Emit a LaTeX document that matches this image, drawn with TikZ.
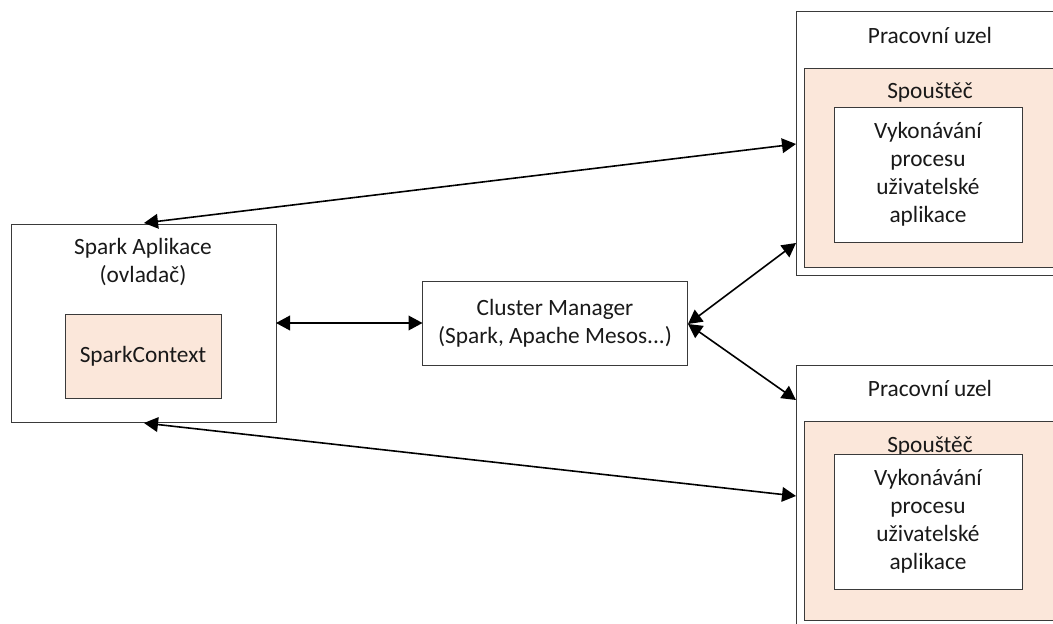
\documentclass[tikz,border=0pt]{standalone}
\usepackage{fontspec}
\setmainfont{Carlito}
\usetikzlibrary{arrows.meta}
\definecolor{peach}{HTML}{FBE7DA}
\definecolor{edge}{HTML}{3A3A3A}
\tikzset{
  px/.style={x=0.75pt,y=-0.75pt},
  box/.style={draw=edge,line width=0.75pt,fill=white,inner sep=0pt,outer sep=0pt,anchor=north west},
  peachbox/.style={box,fill=peach},
  txt/.style={inner sep=0pt,align=center,font=\fontsize{17.5}{21}\selectfont,text=black!90},
  link/.style={line width=1.2pt,black,{Triangle[length=10.5pt,width=11pt]}-{Triangle[length=10.5pt,width=11pt]}}
}
\begin{document}
\begin{tikzpicture}[px]
\useasboundingbox (0,0) rectangle (1053,624);
\clip (0,0) rectangle (1053,624);
% worker 1
\node[box,minimum width=300*0.75pt,minimum height=263*0.75pt] (w1) at (796,12) {};
\node[peachbox,minimum width=290*0.75pt,minimum height=198*0.75pt] (e1) at (804,69) {};
\node[txt] (w1t) at (930,35) {Pracovní uzel};
\node[txt] (e1t) at (930,93) {Spouštěč};
\node[box,minimum width=188*0.75pt,minimum height=134.5*0.75pt] (p1) at (834,107.5) {};
\node[txt] (p1t) at (p1.center) {Vykonávání\\procesu\\uživatelské\\aplikace};
% worker 2
\node[box,minimum width=300*0.75pt,minimum height=300*0.75pt] (w2) at (796,365) {};
\node[peachbox,minimum width=290*0.75pt,minimum height=198.5*0.75pt] (e2) at (804,421.5) {};
\node[txt] (w2t) at (930,388) {Pracovní uzel};
\node[txt] (e2t) at (930,446) {Spouštěč};
\node[box,minimum width=188*0.75pt,minimum height=134.5*0.75pt] (p2) at (834,454.5) {};
\node[txt] (p2t) at (p2.center) {Vykonávání\\procesu\\uživatelské\\aplikace};
% spark application
\node[box,minimum width=265*0.75pt,minimum height=198*0.75pt] (app) at (11,224) {};
\node[txt] (appt) at (143,262.5) {Spark Aplikace\\(ovladač)};
\node[peachbox,minimum width=156*0.75pt,minimum height=84*0.75pt] (ctx) at (65,314.5) {};
\node[txt] (ctxt) at (ctx.center) {SparkContext};
% cluster manager
\node[box,minimum width=265*0.75pt,minimum height=83.5*0.75pt] (cm) at (422.5,281.5) {};
\node[txt] (cmt) at (cm.center) {Cluster Manager\\(Spark, Apache Mesos...)};
% connectors
\coordinate (a1) at (144,223);
\coordinate (a2) at (796,144);
\coordinate (b1) at (144,423);
\coordinate (b2) at (796,496);
\coordinate (c1) at (688,324);
\coordinate (c2) at (796,243);
\coordinate (d2) at (796,400);
\coordinate (m) at (0,323);
\draw[link] (a1) -- (w1.west |- a2);
\draw[link] (b1) -- (w2.west |- b2);
\draw[link] (app.east |- m) -- (cm.west |- m);
\draw[link] (c1) -- (w1.west |- c2);
\draw[link] (c1) -- (w2.west |- d2);
\end{tikzpicture}
\end{document}
